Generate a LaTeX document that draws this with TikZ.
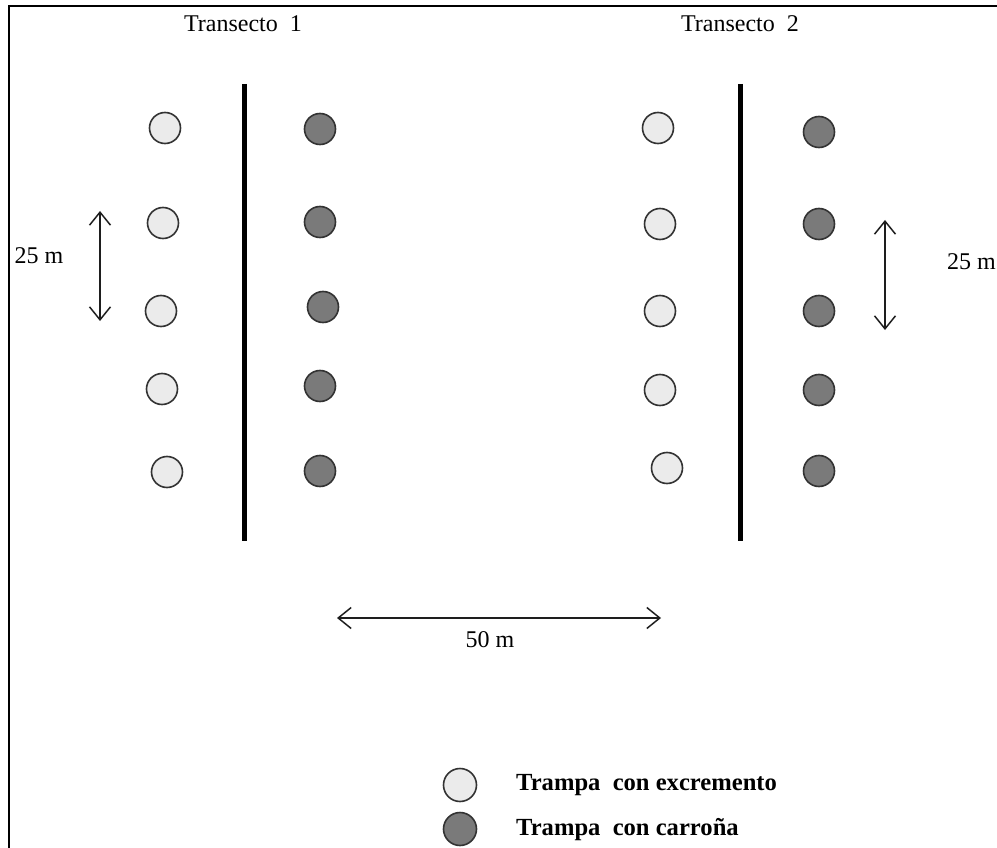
\documentclass[tikz,border=0pt]{standalone}
\usepackage{fontspec}
\setmainfont{Liberation Serif}
\usetikzlibrary{arrows.meta}
\definecolor{trapedge}{HTML}{333333}
\definecolor{lightfill}{HTML}{EBEBEB}
\definecolor{darkfill}{HTML}{7A7A7A}
\definecolor{inkline}{HTML}{1E1E1E}
\tikzset{
  trapbase/.style={circle, draw=trapedge, line width=1.6pt, minimum size=31pt, inner sep=0pt},
  lighttrap/.style={trapbase, fill=lightfill},
  darktrap/.style={trapbase, fill=darkfill},
  transectline/.style={line width=5pt, black},
  barb/.tip={Straight Barb[length=13pt,width=21pt,line width=1.5pt]},
  measure/.style={draw=inkline, line width=1.5pt, barb-barb},
  lbl/.style={font=\fontsize{24}{28}\selectfont, inner sep=0pt, text=black},
  legendlbl/.style={font=\fontsize{24.6}{29}\selectfont\bfseries, inner sep=0pt, anchor=west, text=black}
}
\begin{document}
\begin{tikzpicture}[x=1pt, y=-1pt]
\useasboundingbox (0,0) rectangle (997,848);
\fill[white] (0,0) rectangle (997,848);

% outer frame (continues past the right and lower edges)
\draw[line width=2.8pt] (9,848) -- (9,6) -- (997,6);

% titles
\node[lbl] (t1) at (243,24) {Transecto~ 1};
\node[lbl] (t2) at (740,24) {Transecto~ 2};

% transect lines
\coordinate (a1) at (244,84);
\coordinate (a2) at (244,541);
\coordinate (b1) at (740,84);
\coordinate (b2) at (740,541);
\draw[transectline] (a1) -- (a2);
\draw[transectline] (b1) -- (b2);

% transect 1 traps
\node[lighttrap] (e11) at (165,128) {};
\node[lighttrap] (e12) at (163,223) {};
\node[lighttrap] (e13) at (161,311) {};
\node[lighttrap] (e14) at (162,389) {};
\node[lighttrap] (e15) at (167,472) {};
\node[darktrap] (c11) at (320,129) {};
\node[darktrap] (c12) at (320,222) {};
\node[darktrap] (c13) at (323,307) {};
\node[darktrap] (c14) at (320,386) {};
\node[darktrap] (c15) at (320,471) {};

% transect 2 traps
\node[lighttrap] (e21) at (658,128) {};
\node[lighttrap] (e22) at (660,224) {};
\node[lighttrap] (e23) at (660,311) {};
\node[lighttrap] (e24) at (660,390) {};
\node[lighttrap] (e25) at (667,468) {};
\node[darktrap] (c21) at (819,132) {};
\node[darktrap] (c22) at (819,224) {};
\node[darktrap] (c23) at (819,311) {};
\node[darktrap] (c24) at (819,390) {};
\node[darktrap] (c25) at (819,471) {};

% spacing between traps
\coordinate (ml1) at (100,211);
\coordinate (ml2) at (100,321);
\draw[measure] (ml1) -- (ml2);
\node[lbl] (dl) at (39,256) {25 m};

\coordinate (mr1) at (885,220);
\coordinate (mr2) at (885,330);
\draw[measure] (mr1) -- (mr2);
\node[lbl, anchor=west] (dr) at (947,262) {25 m};

% spacing between transects
\coordinate (mt1) at (337,618);
\coordinate (mt2) at (661,618);
\draw[measure] (mt1) -- (mt2);
\node[lbl] (dt) at (490,640) {50 m};

% legend
\node[lighttrap, minimum size=33pt] (k1) at (460,785) {};
\node[darktrap, minimum size=33pt] (k2) at (460,829) {};
\node[legendlbl] (k1t) at (516,785) {Trampa~ con excremento};
\node[legendlbl] (k2t) at (516,830) {Trampa~ con carroña};
\end{tikzpicture}
\end{document}
